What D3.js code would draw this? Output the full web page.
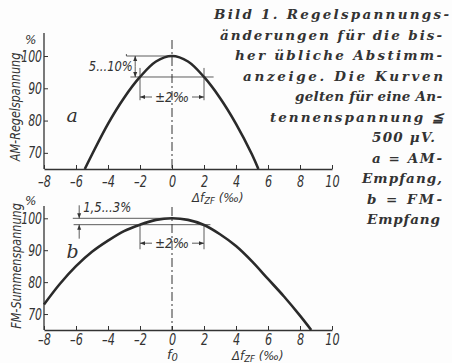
<!DOCTYPE html>
<html>
<head>
<meta charset="utf-8">
<script src="https://cdn.jsdelivr.net/npm/d3@7"></script>
<style>
  body { margin: 0; background: #fdfdfd; }
  svg { display: block; }
  .lbl { font-family: "DejaVu Sans", sans-serif; font-style: oblique; fill: #333; }
  .cap { font-family: "DejaVu Serif", serif; font-style: italic; font-weight: bold; font-size: 13.5px; fill: #333; }
</style>
</head>
<body>
<div id="chart"></div>
<script>
// ticks
const xTicks = [-8, -6, -4, -2, 0, 2, 4, 6, 8, 10];
const yTicks = [70, 80, 90, 100];

// curve a: AM-Regelspannung (%) against Δf_ZF (‰)
const amX = [-5.45, -5, -4, -3, -2, -1, 0, 1, 2, 3, 4, 5, 5.4];
const amY = [65, 69.5, 79, 87, 93.5, 98.3, 100, 98.3, 93.5, 87, 79, 69.5, 65];

// curve b: FM-Summenspannung (%)
const fmX = [-8, -7, -6, -5, -4, -3, -2, -1, 0, 1, 2, 3, 4, 5, 6, 7, 8, 8.7];
const fmY = [73, 79.5, 85, 89.5, 93, 96, 98, 99.5, 100, 99.5, 97.9, 95, 91.3, 86.5, 81, 75.5, 69.5, 65];

const captionLines = [
    "Bild 1. Regelspannungs-",
    "änderungen für die bis-",
    "her übliche Abstimm-",
    "anzeige. Die Kurven",
    "gelten für eine An-",
    "tennenspannung ≦",
    "500 μV.",
    "a = AM-",
    "Empfang,",
    "b = FM-",
    "Empfang"
];
// left / right edge of each caption line
const captionX0 = [214, 220, 235, 243, 295, 270, 372, 372, 362, 367, 367];
const captionX1 = [449, 442, 442, 443, 442, 443, 435, 442, 442, 442, 440];

const W = 452, H = 363;
const ink = "#333";

const svg = d3.select("#chart").append("svg")
    .attr("width", W)
    .attr("height", H);

const defs = svg.append("defs");
defs.append("marker")
    .attr("id", "arr")
    .attr("viewBox", "0 0 10 10")
    .attr("refX", 10).attr("refY", 5)
    .attr("markerWidth", 6).attr("markerHeight", 5)
    .attr("markerUnits", "userSpaceOnUse")
    .attr("orient", "auto-start-reverse")
    .append("path")
    .attr("d", "M0,1 L10,5 L0,9 Z")
    .attr("fill", ink);

const x = d3.scaleLinear().domain([-8, 10]).range([44, 332]);

// squeeze text to look like the condensed lettering
function narrow(sel, f) {
    sel.each(function () {
        const len = this.getComputedTextLength();
        d3.select(this).attr("textLength", len * f).attr("lengthAdjust", "spacingAndGlyphs");
    });
}

function panel(cfg) {
    const y = d3.scaleLinear().domain([65, 100]).range([cfg.base, cfg.top100]);
    const g = svg.append("g");

    // x axis
    const xa = g.append("g")
        .attr("transform", `translate(0,${cfg.base})`)
        .call(d3.axisBottom(x).tickValues(xTicks).tickSizeInner(-4).tickSizeOuter(0).tickPadding(cfg.xPad)
            .tickFormat(d => d < 0 ? "–" + Math.abs(d) : d));
    xa.select(".domain").attr("stroke", ink).attr("stroke-width", 1.3);
    xa.selectAll(".tick line").attr("stroke", ink).attr("stroke-width", 1);
    xa.selectAll("text").attr("class", "lbl").style("font-size", "15px").attr("fill", ink);
    narrow(xa.selectAll("text"), 0.75);

    // y axis
    const ya = g.append("g")
        .attr("transform", `translate(${x(-8)},0)`)
        .call(d3.axisLeft(y).tickValues(yTicks).tickSizeInner(-4).tickSizeOuter(0).tickPadding(2));
    ya.select(".domain").remove();
    ya.selectAll(".tick line").attr("stroke", ink).attr("stroke-width", 1);
    ya.selectAll("text").attr("class", "lbl").style("font-size", "16px").attr("fill", ink);
    narrow(ya.selectAll("text"), 0.68);
    g.append("line")
        .attr("x1", x(-8)).attr("x2", x(-8))
        .attr("y1", cfg.axisTop).attr("y2", cfg.base)
        .attr("stroke", ink).attr("stroke-width", 1.3);

    g.append("text").attr("class", "lbl")
        .attr("x", 25).attr("y", cfg.pctY)
        .style("font-size", "12px").text("%");

    const yt = g.append("text").attr("class", "lbl")
        .attr("transform", `translate(${cfg.titleX},${cfg.titleY}) rotate(-90)`)
        .attr("text-anchor", "middle")
        .style("font-size", "14px").text(cfg.title);
    narrow(yt, 0.8);

    // dash-dot centre line at f0
    g.append("line")
        .attr("x1", x(0)).attr("x2", x(0))
        .attr("y1", cfg.dashTop).attr("y2", cfg.base)
        .attr("stroke", ink).attr("stroke-width", 1)
        .attr("stroke-dasharray", "9,3,2,3");

    // curve
    const line = d3.line()
        .x((d, i) => x(cfg.xs[i]))
        .y(d => y(d))
        .curve(d3.curveCatmullRom);
    g.append("path")
        .datum(cfg.ys)
        .attr("d", line)
        .attr("fill", "none")
        .attr("stroke", "#2a2a2a")
        .attr("stroke-width", 2.6);

    // panel letter
    g.append("text")
        .attr("x", x(-6.6)).attr("y", cfg.letterY)
        .style("font-family", "'DejaVu Serif', serif")
        .style("font-style", "italic")
        .style("font-size", "19px")
        .attr("fill", ink)
        .text(cfg.letter);

    return { g, y };
}

const panelA = panel({
    base: 169, top100: 56, axisTop: 33, pctY: 44, dashTop: 40, xPad: 7,
    xs: amX, ys: amY, letter: "a", letterY: 122,
    title: "AM-Regelspannung", titleX: 20, titleY: 107
});
const panelB = panel({
    base: 330, top100: 218.3, axisTop: 206, pctY: 205, dashTop: 207, xPad: 4,
    xs: fmX, ys: fmY, letter: "b", letterY: 258,
    title: "FM-Summenspannung", titleX: 21, titleY: 266
});

function seg(g, x1, y1, x2, y2, arrow) {
    const l = g.append("line")
        .attr("x1", x1).attr("y1", y1).attr("x2", x2).attr("y2", y2)
        .attr("stroke", ink).attr("stroke-width", 0.8);
    if (arrow) l.attr("marker-end", "url(#arr)");
    return l;
}
function small(g, tx, ty, txt, anchor, w) {
    return g.append("text").attr("class", "lbl")
        .attr("x", tx).attr("y", ty)
        .attr("text-anchor", anchor)
        .attr("textLength", w).attr("lengthAdjust", "spacingAndGlyphs")
        .style("font-size", "14px").text(txt);
}

// ---- annotations, panel a
{
    const g = panelA.g, y = panelA.y;
    seg(g, x(-2.85), y(100), x(0), y(100));
    seg(g, x(-2.85), y(100) - 2, x(-2.85), y(100));
    seg(g, x(-2.6), y(93.5), x(2.6), y(93.5));
    // 5...10 % vertical dimension
    seg(g, x(-2.3), (y(100) + y(93.5)) / 2, x(-2.3), y(100), true);
    seg(g, x(-2.3), (y(100) + y(93.5)) / 2, x(-2.3), y(93.5), true);
    small(g, x(-2.45), y(95.3), "5...10%", "end", 44);
    // ±2 ‰ horizontal dimension
    [-2, 2].forEach(v => seg(g, x(v), y(96.3), x(v), y(86.3)));
    seg(g, x(-1.25), y(87.3), x(-2), y(87.3), true);
    seg(g, x(1.25), y(87.3), x(2), y(87.3), true);
    small(g, x(0), y(87.3) + 5, "±2‰", "middle", 34);
}

// ---- annotations, panel b
{
    const g = panelB.g, y = panelB.y;
    seg(g, x(-6.2), y(100), x(0), y(100));
    seg(g, x(-6.15), y(98), x(2.4), y(98));
    seg(g, x(-5.8), y(100) - 13, x(-5.8), y(100), true);
    seg(g, x(-5.8), y(98) + 14, x(-5.8), y(98), true);
    small(g, x(-5.55), y(100) - 6, "1,5...3%", "start", 48);
    [-2, 2].forEach(v => seg(g, x(v), y(98), x(v), y(90.3)));
    seg(g, x(-1.25), y(92.2), x(-2), y(92.2), true);
    seg(g, x(1.25), y(92.2), x(2), y(92.2), true);
    small(g, x(0), y(92.2) + 5, "±2‰", "middle", 34);

    const f0 = g.append("text").attr("class", "lbl")
        .attr("x", x(0) - 5).attr("y", 359).style("font-size", "13px");
    f0.append("tspan").text("f");
    f0.append("tspan").attr("dy", 2).style("font-size", "10px").text("0");
}

// axis titles Δf_ZF (‰)
function dfTitle(tx, ty) {
    const t = svg.append("text").attr("class", "lbl")
        .attr("x", tx).attr("y", ty).style("font-size", "13px");
    t.append("tspan").text("Δf");
    t.append("tspan").attr("dy", 2).style("font-size", "9.5px").text("ZF");
    t.append("tspan").attr("dy", -2).text(" (‰)");
    narrow(t, 0.9);
}
dfTitle(192, 202);
dfTitle(232, 360);

// caption, right column
svg.append("g").selectAll("text")
    .data(captionLines)
    .join("text")
    .attr("class", "cap")
    .attr("x", (d, i) => captionX0[i])
    .attr("y", (d, i) => 19 + i * 20.5)
    .attr("textLength", (d, i) => captionX1[i] - captionX0[i])
    .attr("lengthAdjust", "spacing")
    .text(d => d);
</script>
</body>
</html>
